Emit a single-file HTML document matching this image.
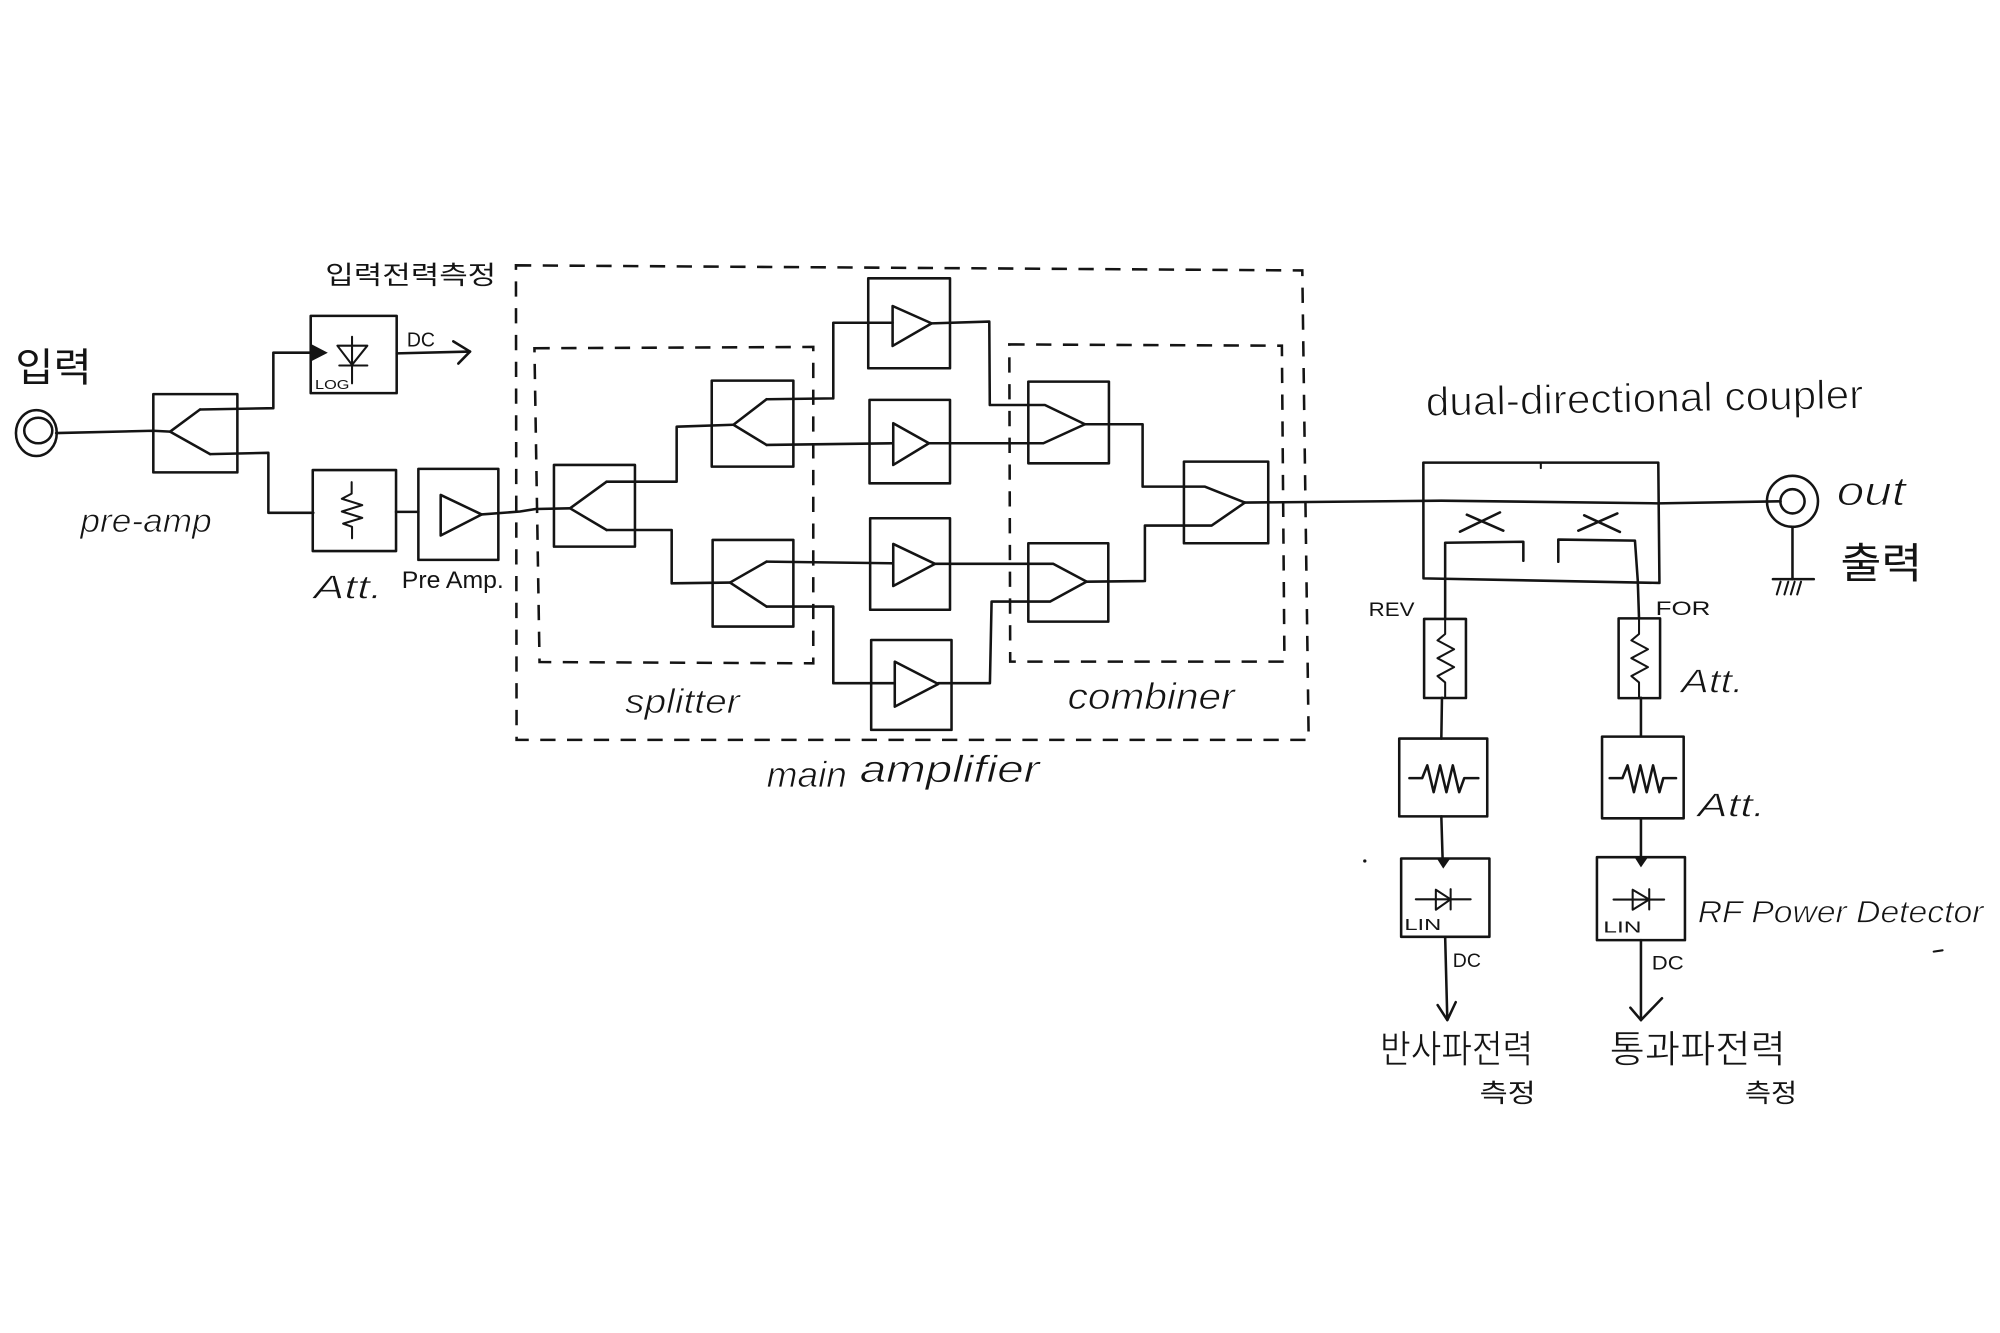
<!DOCTYPE html>
<html>
<head>
<meta charset="utf-8">
<style>
  html, body { margin: 0; padding: 0; background: #ffffff; }
  svg { display: block; }
  .ln { fill: none; stroke: #141414; stroke-width: 2; stroke-linejoin: round; stroke-linecap: round; }
  .thin { fill: none; stroke: #141414; stroke-width: 1.6; stroke-linejoin: round; stroke-linecap: round; }
  .dash { fill: none; stroke: #141414; stroke-width: 2; stroke-dasharray: 12 9; }
  .hw { font-family: "Liberation Sans", "DejaVu Sans", sans-serif; font-style: italic; fill: #141414; stroke: #ffffff; stroke-width: 0.6; }
  .hwu { font-family: "Liberation Sans", "DejaVu Sans", sans-serif; fill: #141414; stroke: #ffffff; stroke-width: 0.5; }
  .sm { font-family: "Liberation Sans", "DejaVu Sans", sans-serif; fill: #141414; }
  .pr { font-family: "Liberation Sans", "DejaVu Sans", sans-serif; fill: #141414; }
  .kr { font-family: "Liberation Sans", "Noto Sans CJK KR", "NanumGothic", sans-serif; fill: #141414; }
  .krh { font-family: "Liberation Sans", "Noto Sans CJK KR", "NanumGothic", sans-serif; fill: #141414; stroke: #ffffff; stroke-width: 0.5; }
</style>
</head>
<body>
<svg width="2000" height="1333" viewBox="0 0 1568 1045" preserveAspectRatio="none" xmlns="http://www.w3.org/2000/svg">
  <rect x="0" y="0" width="1568" height="1045" fill="#ffffff"/>

  <!-- ===== Input section ===== -->
  <text class="kr" x="12" y="299" font-size="31" textLength="60" lengthAdjust="spacingAndGlyphs">입력</text>
  <ellipse class="ln" cx="28.5" cy="339.5" rx="16" ry="18"/>
  <ellipse class="ln" cx="30" cy="337.5" rx="11" ry="10"/>
  <path class="ln" d="M44,339.5 L120,337.7 L133.3,338.4"/>

  <!-- pre-amp splitter -->
  <rect class="ln" x="120.2" y="309" width="65.9" height="61.3"/>
  <path class="ln" d="M156.8,321 L133.3,338.4 L164.7,356"/>
  <path class="ln" d="M156.8,321 L214.3,320 L214.3,276.5 L245,276.5"/>
  <path class="ln" d="M164.7,356 L210.4,355 L210.4,402 L245.6,402"/>
  <text class="hw" x="63" y="417" font-size="26" textLength="103" lengthAdjust="spacingAndGlyphs">pre-amp</text>

  <!-- LOG detector -->
  <text class="kr" x="255" y="222.5" font-size="20" textLength="134" lengthAdjust="spacingAndGlyphs">입력전력측정</text>
  <rect class="ln" x="243.6" y="247.6" width="67.4" height="60.6"/>
  <polygon points="244.4,270 257,276.5 244.4,283" fill="#141414"/>
  <path class="thin" d="M276,264 L276,300.5"/>
  <path class="thin" d="M264.5,271 L288,271 L276,286 Z"/>
  <path class="thin" d="M266,286.5 L288,286.5"/>
  <text class="sm" x="247" y="305" font-size="10" textLength="27" lengthAdjust="spacingAndGlyphs">LOG</text>
  <path class="ln" d="M311,277 L368.5,275.6"/>
  <path class="ln" d="M355.4,267.6 L368.5,275.6 L359.3,285"/>
  <text class="sm" x="319" y="271.5" font-size="16" textLength="22" lengthAdjust="spacingAndGlyphs">DC</text>

  <!-- Att -->
  <rect class="ln" x="245.2" y="368.5" width="65.3" height="63.5"/>
  <path class="thin" d="M275.7,378 L275.7,387 L268,391 L284,396 L268,401 L284,406 L269,410.5 L276,413 L276,422"/>
  <path class="ln" d="M310.5,401.3 L328,401.3"/>
  <text class="hw" x="246" y="469" font-size="26" textLength="54" lengthAdjust="spacingAndGlyphs">Att.</text>

  <!-- Pre Amp -->
  <rect class="ln" x="328" y="367.6" width="62.7" height="71.3"/>
  <path class="ln" d="M345.5,388 L345.5,419.8 L377.6,403.3 Z"/>
  <path class="ln" d="M377.6,403.3 L407.7,401 L420,399 L446.9,398.5"/>
  <text class="pr" x="315" y="461" font-size="19" textLength="80" lengthAdjust="spacingAndGlyphs">Pre Amp.</text>

  <!-- ===== Main amplifier ===== -->
  <path class="dash" d="M404.5,208 L1021,212 L1026,580 L405,580 Z"/>
  <path class="dash" d="M419,273 L637.6,272 L637.6,520 L423,519 Z"/>
  <path class="dash" d="M791.3,270 L1005,271 L1007,518.7 L792,518.7 Z"/>

  <!-- splitter 1 -->
  <rect class="ln" x="434.3" y="364.5" width="63.5" height="64"/>
  <path class="ln" d="M475.6,377.6 L446.9,398.5 L475.6,415.5"/>
  <path class="ln" d="M475.6,377.6 L530.5,377.6 L530.5,334.5 L575,333"/>
  <path class="ln" d="M475.6,415.5 L526.6,415.5 L526.6,457.3 L572.3,456.7"/>

  <!-- splitter 2 -->
  <rect class="ln" x="558" y="298.4" width="64" height="67.4"/>
  <path class="ln" d="M601,313 L575,333 L601,348.8"/>
  <path class="ln" d="M601,313 L653.3,312.3 L653.3,253 L699.8,253"/>
  <path class="ln" d="M601,348.8 L700.3,347.5"/>

  <!-- splitter 3 -->
  <rect class="ln" x="558.7" y="423.3" width="63.3" height="67.9"/>
  <path class="ln" d="M601,440.3 L572.3,456.7 L601,475.5"/>
  <path class="ln" d="M601,440.3 L700.3,441.6"/>
  <path class="ln" d="M601,475.5 L653.3,475.5 L653.3,535.6 L701.5,535.6"/>

  <!-- amplifiers -->
  <rect class="ln" x="680.7" y="218.2" width="64.1" height="70.5"/>
  <path class="ln" d="M699.8,239.9 L699.8,271.2 L730.4,253.5 Z"/>
  <rect class="ln" x="681.7" y="313.5" width="63.1" height="65.4"/>
  <path class="ln" d="M700.3,331.8 L700.3,364.5 L728.3,347.5 Z"/>
  <rect class="ln" x="682.2" y="406.3" width="62.6" height="71.7"/>
  <path class="ln" d="M700.3,426.4 L700.3,459.4 L733,442 Z"/>
  <rect class="ln" x="683" y="501.7" width="63" height="70.5"/>
  <path class="ln" d="M701.5,518.7 L701.5,554 L735.6,536.2 Z"/>

  <!-- amp outputs to combiners -->
  <path class="ln" d="M730.4,253.5 L775.6,252.1 L776,317.5 L819.2,317.5 L850.6,332.6"/>
  <path class="ln" d="M728.3,347.5 L818,347.5 L850.6,332.6"/>
  <path class="ln" d="M733,442 L825.8,442 L851.9,456"/>
  <path class="ln" d="M735.6,535.6 L776.1,535.6 L777.4,471.6 L823.2,471.6 L851.9,456"/>

  <!-- combiners -->
  <rect class="ln" x="806.2" y="299.2" width="63.2" height="64"/>
  <rect class="ln" x="806.2" y="425.9" width="62.7" height="61.4"/>
  <rect class="ln" x="928.2" y="361.9" width="66.1" height="64"/>
  <path class="ln" d="M850.6,332.6 L895.8,332.6 L895.8,381.5 L944.7,381.5 L976,394"/>
  <path class="ln" d="M851.9,456 L897.6,455.5 L897.6,412 L949.9,412 L976,394"/>

  <text class="hw" x="490" y="559" font-size="27" textLength="90" lengthAdjust="spacingAndGlyphs">splitter</text>
  <text class="hw" x="837" y="556" font-size="29" textLength="131" lengthAdjust="spacingAndGlyphs">combiner</text>
  <text class="hw" x="601" y="617" font-size="28" textLength="63" lengthAdjust="spacingAndGlyphs">main</text>
  <text class="hw" x="674" y="613" font-size="30" textLength="141" lengthAdjust="spacingAndGlyphs">amplifier</text>

  <!-- ===== Output / coupler ===== -->
  <path class="ln" d="M976,394 L1130,392.5 L1300,394.6 L1396,393"/>
  <text class="hwu" x="1118" y="326" font-size="32" textLength="343" lengthAdjust="spacingAndGlyphs" transform="rotate(-1 1118 326)" style="stroke-width:0.8">dual-directional coupler</text>
  <path class="ln" d="M1115.9,362.7 L1300.1,362.7 L1301,457 L1116,453.4 Z"/>
  <path class="thin" d="M1208,362.7 L1208,367"/>
  <!-- X marks -->
  <path class="ln" d="M1144.6,416.8 L1176,401.7 M1150,403.5 L1178.6,416"/>
  <path class="ln" d="M1237.4,416 L1268,402.5 M1242,404 L1270,417"/>
  <!-- coupled lines -->
  <path class="ln" d="M1133,484.8 L1133,425.5 L1194.3,424.7 L1194.3,439.6"/>
  <path class="ln" d="M1221.7,440.4 L1221.7,423 L1281.8,423.8 L1284,455 L1285,484.8"/>

  <!-- out connector -->
  <circle class="ln" cx="1405.3" cy="393" r="20"/>
  <circle class="ln" cx="1405.3" cy="393" r="9.5"/>
  <path class="ln" d="M1405.3,413 L1405.3,454"/>
  <path class="ln" d="M1390,454 L1422,454"/>
  <path class="thin" d="M1393,466 L1396,456 M1399,466 L1402,456 M1404,466 L1407,456 M1409,466 L1412,456"/>
  <text class="hw" x="1440" y="396" font-size="32" textLength="54" lengthAdjust="spacingAndGlyphs" style="stroke-width:0.8">out</text>
  <text class="kr" x="1443" y="453" font-size="33" textLength="64" lengthAdjust="spacingAndGlyphs">출력</text>

  <text class="sm" x="1073" y="483" font-size="15" textLength="36" lengthAdjust="spacingAndGlyphs">REV</text>
  <text class="sm" x="1298" y="482" font-size="15" textLength="43" lengthAdjust="spacingAndGlyphs">FOR</text>

  <!-- REV chain -->
  <rect class="ln" x="1116.5" y="485.2" width="32.8" height="62"/>
  <path class="thin" d="M1133,485 L1133,497 L1127,502 L1140,509 L1127,516 L1140,523 L1127,530 L1133,535 L1133,547"/>
  <path class="ln" d="M1130.5,547 L1130,579"/>
  <rect class="ln" x="1097" y="579" width="69" height="61"/>
  <path class="ln" d="M1105,610 L1115,610 L1119,600 L1124,621 L1129,600 L1134,621 L1139,600 L1144,621 L1148,610 L1159,610"/>
  <path class="ln" d="M1130,640 L1131,673"/>
  <rect class="ln" x="1098.5" y="673" width="69.2" height="61.4"/>
  <polygon points="1126.5,673 1137,673 1131.5,681" fill="#141414"/>
  <path class="thin" d="M1110,705 L1153,705"/>
  <path class="thin" d="M1125.7,697.5 L1125.7,713.2 L1137.3,705 Z"/>
  <path class="thin" d="M1137.3,697 L1137.3,713"/>
  <text class="sm" x="1101" y="729" font-size="12" textLength="29" lengthAdjust="spacingAndGlyphs">LIN</text>
  <path class="ln" d="M1133,734.4 L1134.7,799.7"/>
  <path class="ln" d="M1127.1,787.9 L1134.7,799.7 L1141.3,785.6"/>
  <text class="sm" x="1139" y="758" font-size="15" textLength="22" lengthAdjust="spacingAndGlyphs">DC</text>
  <text class="krh" x="1082" y="833" font-size="30" textLength="120" lengthAdjust="spacingAndGlyphs">반사파전력</text>
  <text class="kr" x="1160" y="864" font-size="20" textLength="44" lengthAdjust="spacingAndGlyphs">측정</text>

  <!-- FOR chain -->
  <rect class="ln" x="1269" y="484.8" width="32.5" height="62.5"/>
  <path class="thin" d="M1285,485 L1285,497 L1279,502 L1292,509 L1279,516 L1292,523 L1279,530 L1285,535 L1285,547"/>
  <path class="ln" d="M1286.5,547 L1286.5,577"/>
  <rect class="ln" x="1256" y="577.5" width="64" height="64"/>
  <path class="ln" d="M1262,610 L1272,610 L1276,600 L1281,621 L1286,600 L1291,621 L1296,600 L1301,621 L1304,610 L1314,610"/>
  <path class="ln" d="M1286.5,641.5 L1286.5,672"/>
  <rect class="ln" x="1252" y="672" width="69" height="65"/>
  <polygon points="1281.5,672 1292,672 1286.5,680" fill="#141414"/>
  <path class="thin" d="M1265,705.2 L1304.7,705.2"/>
  <path class="thin" d="M1280,697.5 L1280,713.2 L1293,705.2 Z"/>
  <path class="thin" d="M1293,697 L1293,713"/>
  <text class="sm" x="1257" y="731" font-size="12" textLength="30" lengthAdjust="spacingAndGlyphs">LIN</text>
  <path class="ln" d="M1286.5,737 L1286.5,799.7"/>
  <path class="ln" d="M1278.2,790 L1286.5,799.7 L1303,782.6"/>
  <text class="sm" x="1295" y="760" font-size="15" textLength="25" lengthAdjust="spacingAndGlyphs">DC</text>
  <text class="krh" x="1262" y="833" font-size="30" textLength="138" lengthAdjust="spacingAndGlyphs">통과파전력</text>
  <text class="kr" x="1368" y="864" font-size="20" textLength="41" lengthAdjust="spacingAndGlyphs">측정</text>

  <text class="hw" x="1318" y="543" font-size="26" textLength="49" lengthAdjust="spacingAndGlyphs">Att.</text>
  <text class="hw" x="1331" y="640" font-size="26" textLength="53" lengthAdjust="spacingAndGlyphs">Att.</text>
  <text class="hw" x="1331" y="723" font-size="25" textLength="224" lengthAdjust="spacingAndGlyphs">RF Power Detector</text>

  <!-- specks -->
  <circle cx="1070" cy="675" r="1.3" fill="#141414"/>
  <path class="thin" d="M1516,746 L1523,745"/>
</svg>
</body>
</html>
